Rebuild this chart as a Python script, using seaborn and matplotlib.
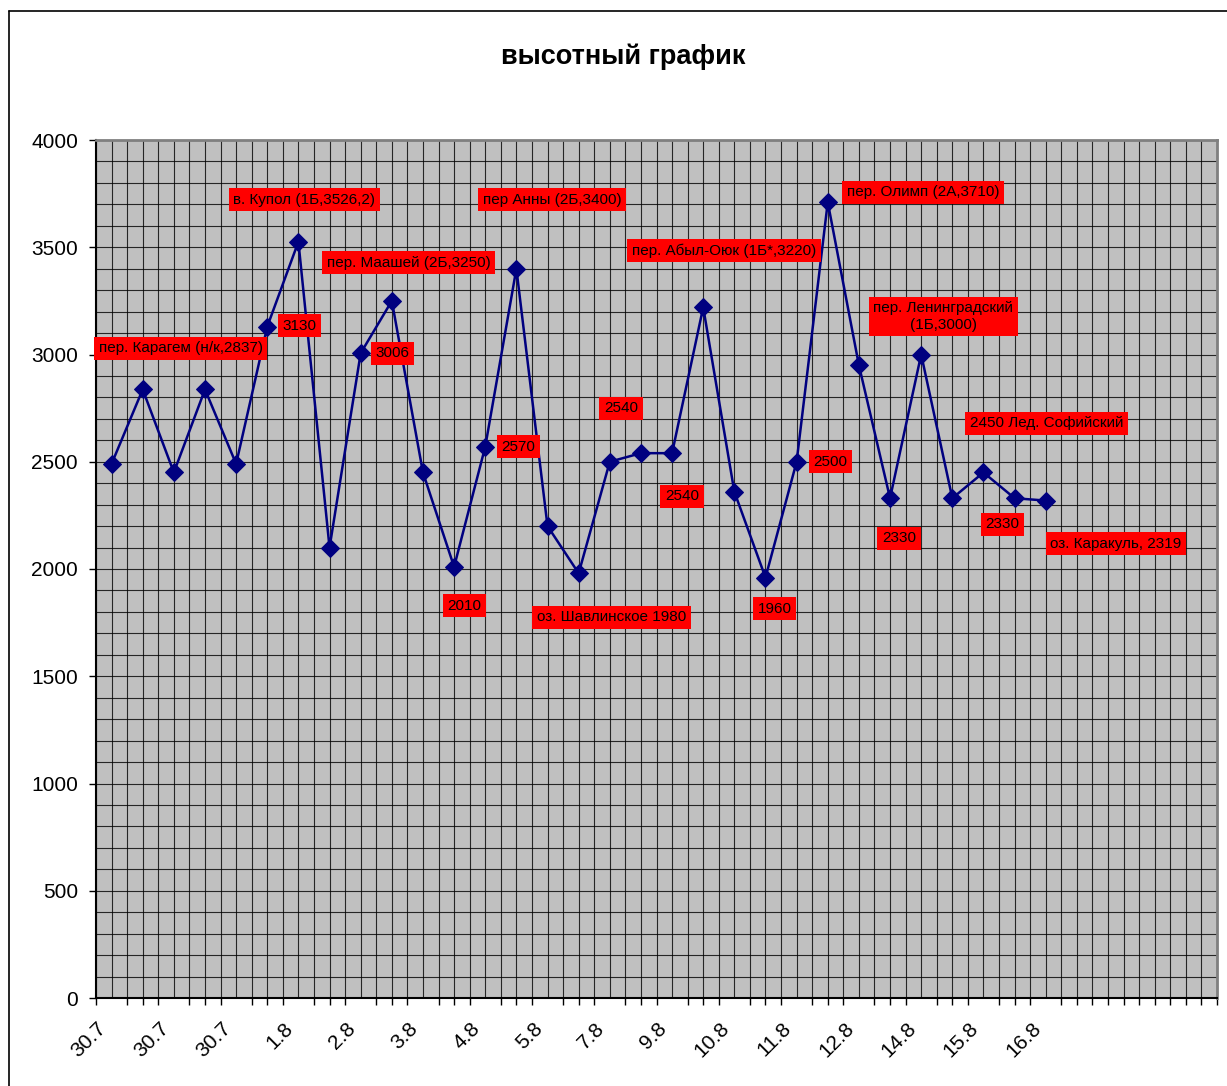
"""
Elevation profile of a mountain trek (Excel-style line chart).
"""

import numpy as np
import pandas as pd
import matplotlib
matplotlib.use("Agg")
import matplotlib.pyplot as plt
import seaborn as sns
from matplotlib.lines import Line2D
from matplotlib.transforms import ScaledTranslation

# ----- data -----
elevation = [2490, 2837, 2450, 2837, 2490, 3130, 3526, 2100, 3006, 3250,
             2450, 2010, 2570, 3400, 2200, 1980, 2500, 2540, 2540, 3220,
             2360, 1960, 2500, 3710, 2950, 2330, 3000, 2330, 2450, 2330,
             2319]
n_categories = 36          # axis has empty slots after the last point
date_labels = ["30.7", "30.7", "30.7", "1.8", "2.8", "3.8", "4.8", "5.8",
               "7.8", "9.8", "10.8", "11.8", "12.8", "14.8", "15.8", "16.8"]

note_points = [1, 6, 5, 9, 8, 13, 11, 12, 15, 17, 18, 19, 21, 22, 23, 26,
               25, 28, 29, 30]
note_texts = ["пер. Карагем (н/к,2837)", "в. Купол (1Б,3526,2)", "3130",
              "пер. Маашей (2Б,3250)", "3006", "пер Анны (2Б,3400)", "2010",
              "2570", "оз. Шавлинское 1980", "2540", "2540",
              "пер. Абыл-Оюк (1Б*,3220)", "1960", "2500",
              "пер. Олимп (2А,3710)", "пер. Ленинградский\n(1Б,3000)", "2330",
              "2450 Лед. Софийский", "2330", "оз. Каракуль, 2319"]

# label box offsets from the point, in pixels (layout only)
note_offsets = [(38, 41), (6, 42), (32, 1), (17, 38), (32, 0), (36, 69),
                (10, -39), (33, 0), (33, -44), (-20, 45), (10, -43),
                (21, 57), (9, -31), (34, 0), (95, 10), (22, 38), (9, -40),
                (63, 49), (-12, -26), (70, -43)]

df = pd.DataFrame({"day": np.arange(len(elevation)), "elevation": elevation})

# ----- style -----
sns.set_style("white")
plt.rcParams["font.family"] = ["Liberation Sans", "DejaVu Sans"]
plt.rcParams["text.color"] = "black"
plt.rcParams["xtick.color"] = "black"
plt.rcParams["ytick.color"] = "black"

fig = plt.figure(figsize=(12.27, 10.86), dpi=100)
ax = fig.add_axes([96 / 1227, 1 - 998 / 1086, (1217 - 96) / 1227, (998 - 140) / 1086])
ax.set_facecolor("#C0C0C0")

# chart area border (left + top visible)
fig.add_artist(Line2D([9 / 1227, 9 / 1227], [0, 1 - 11 / 1086], color="black", lw=1.2))
fig.add_artist(Line2D([9 / 1227, 1], [1 - 11 / 1086, 1 - 11 / 1086], color="black", lw=1.2))

sns.lineplot(data=df, x="day", y="elevation", ax=ax, color="#000080",
             linewidth=1.8, marker="D", markersize=9,
             markeredgecolor="#000080", zorder=3)

ax.set_xlim(-0.5, n_categories - 0.5)
ax.set_ylim(0, 4000)

# grid
ax.set_yticks(np.arange(0, 4001, 500))
ax.set_yticks(np.arange(0, 4001, 100), minor=True)
ax.set_xticks(np.arange(0, len(elevation), 2))
ax.set_xticks(np.arange(-0.5, n_categories, 0.5), minor=True)
ax.grid(which="both", color="black", linewidth=0.8, alpha=0.8)
ax.set_axisbelow(True)

ax.set_xticklabels(date_labels, rotation=45, ha="right", va="center",
                   rotation_mode="anchor", fontsize=15)
ax.tick_params(axis="x", which="major", length=0, pad=20)
ax.tick_params(axis="x", which="minor", length=5, width=1, color="black",
               direction="out", bottom=True)
ax.tick_params(axis="y", which="major", length=5, width=1, color="black",
               direction="out", left=True, labelsize=15, pad=8)
ax.tick_params(axis="y", which="minor", length=0)
ax.set_xlabel("")
ax.set_ylabel("")

shift = ScaledTranslation(-8 / 100, 0, fig.dpi_scale_trans)
for lbl in ax.get_xticklabels():
    lbl.set_transform(lbl.get_transform() + shift)

for side in ["top", "right"]:
    ax.spines[side].set_color("#808080")
    ax.spines[side].set_linewidth(2)
for side in ["left", "bottom"]:
    ax.spines[side].set_color("black")
    ax.spines[side].set_linewidth(1.5)

# red annotation boxes
for idx, text, (dx, dy) in zip(note_points, note_texts, note_offsets):
    ax.annotate(text, xy=(idx, elevation[idx]), xytext=(dx, dy),
                textcoords="offset pixels", ha="center", va="center",
                multialignment="center", fontsize=11, color="black",
                bbox=dict(boxstyle="square,pad=0.3", facecolor="#FF0000",
                          edgecolor="none"), zorder=4)

fig.text(623 / 1227, 1 - 57 / 1086, "высотный график", ha="center",
         va="center", fontsize=19.5, fontweight="bold", color="black")

fig.savefig("out.png", dpi=100)
